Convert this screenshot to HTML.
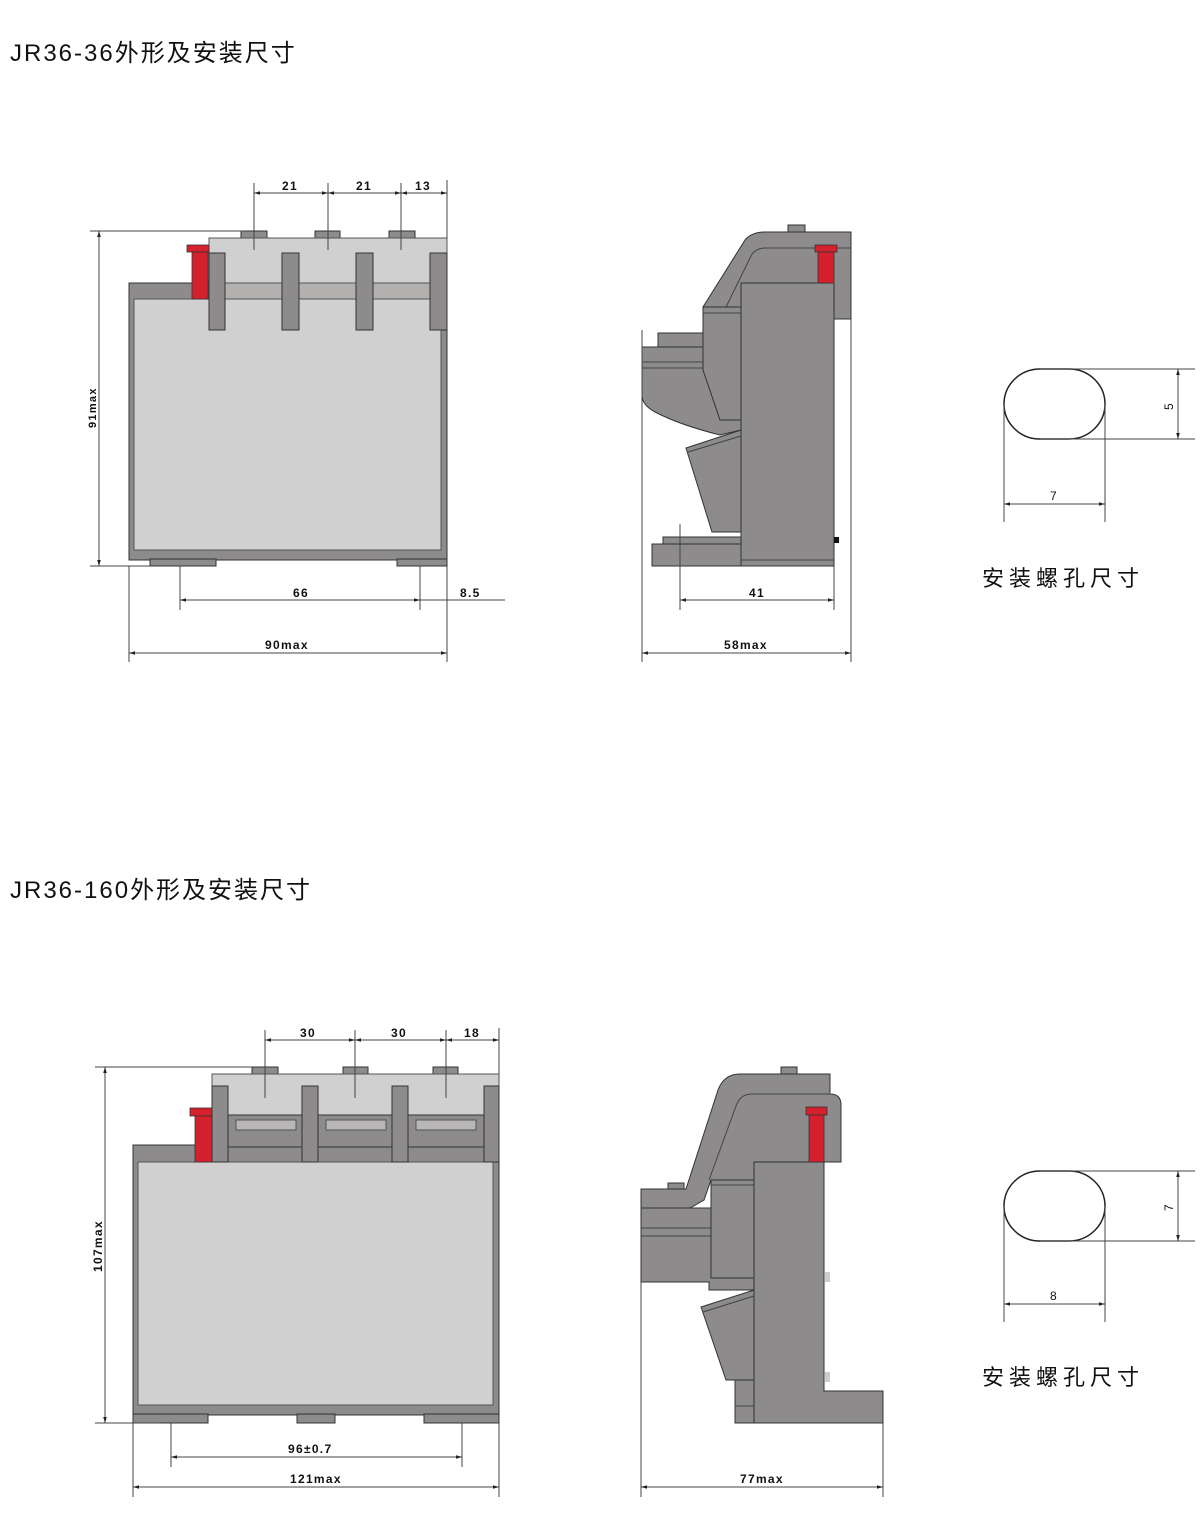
<!DOCTYPE html>
<html><head><meta charset="utf-8"><style>
html,body{margin:0;padding:0;background:#fff;}
svg{display:block;}
text{font-family:"Liberation Sans","Noto Sans CJK SC",sans-serif;fill:#111;}
.d{fill:#8d8b8b;stroke:#333;stroke-width:1;}
.l{fill:#d0d0d0;stroke:#555;stroke-width:1;}
.r{fill:#d5202e;stroke:#333;stroke-width:0.8;}
.ln{stroke:#444;stroke-width:1;fill:none;}
.dim{font-size:12px;font-weight:bold;letter-spacing:1.3px;}
.t{font-size:24px;letter-spacing:2px;}
</style></head><body>
<svg width="1200" height="1532" viewBox="0 0 1200 1532" xmlns="http://www.w3.org/2000/svg">
<defs>
<marker id="a" viewBox="0 0 10 10" refX="10" refY="5" markerWidth="8" markerHeight="6" orient="auto-start-reverse"><path d="M0,2 L10,5 L0,8 z" fill="#222"/></marker>
</defs>
<text class="t" x="10" y="61">JR36-36外形及安装尺寸</text>
<text class="t" x="10" y="898">JR36-160外形及安装尺寸</text>

<!-- FRONT VIEW 1 -->
<rect class="d" x="241" y="231" width="26" height="8"/>
<rect class="d" x="315" y="231" width="25" height="8"/>
<rect class="d" x="389" y="231" width="26" height="8"/>
<rect class="l" x="209" y="238" width="238" height="62"/>
<rect class="d" x="129" y="283" width="318" height="277"/>
<rect x="209" y="283" width="238" height="16" fill="#b3b0b0" stroke="#555"/>
<rect class="l" x="134" y="299" width="307" height="251"/>
<rect class="d" x="209" y="253" width="16" height="77"/>
<rect class="d" x="282" y="253" width="17" height="77"/>
<rect class="d" x="356" y="253" width="17" height="77"/>
<rect class="d" x="430" y="253" width="17" height="77"/>
<rect class="d" x="150" y="559" width="66" height="7"/>
<rect class="d" x="397" y="559" width="50" height="7"/>
<rect class="r" x="187" y="245" width="22" height="7"/>
<rect class="r" x="192" y="252" width="16" height="47"/>
<g class="ln">
<line x1="254" y1="183" x2="254" y2="250"/><line x1="328" y1="183" x2="328" y2="250"/><line x1="401" y1="183" x2="401" y2="250"/><line x1="447" y1="180" x2="447" y2="238"/>
<line x1="254" y1="193" x2="328" y2="193" marker-start="url(#a)" marker-end="url(#a)"/>
<line x1="328" y1="193" x2="401" y2="193" marker-start="url(#a)" marker-end="url(#a)"/>
<line x1="401" y1="193" x2="447" y2="193" marker-start="url(#a)" marker-end="url(#a)"/>
<line x1="90" y1="231" x2="245" y2="231"/><line x1="90" y1="566" x2="150" y2="566"/>
<line x1="99" y1="231" x2="99" y2="566" marker-start="url(#a)" marker-end="url(#a)"/>
<line x1="129" y1="566" x2="129" y2="662"/><line x1="447" y1="566" x2="447" y2="662"/>
<line x1="180" y1="566" x2="180" y2="610"/><line x1="420" y1="566" x2="420" y2="610"/>
<line x1="180" y1="600" x2="420" y2="600" marker-start="url(#a)" marker-end="url(#a)"/>
<line x1="420" y1="600" x2="505" y2="600"/>
<line x1="129" y1="653" x2="447" y2="653" marker-start="url(#a)" marker-end="url(#a)"/>
</g>
<text class="dim" x="282" y="190">21</text><text class="dim" x="356" y="190">21</text><text class="dim" x="415" y="190">13</text>
<text class="dim" x="293" y="597">66</text><text class="dim" x="460" y="597">8.5</text>
<text class="dim" x="265" y="649">90max</text>
<text class="dim" transform="translate(96,428) rotate(-90)" style="font-size:11px">91max</text>

<!-- SIDE VIEW 1 -->
<rect class="d" x="788" y="225" width="17" height="8"/>
<path class="d" d="M765,232 L851,232 L851,319 L834,319 L834,283 L741,283 L741,307 L703,307 L745,240 Q752,232 765,232 Z"/>
<path class="ln" d="M726,307 L752,254 Q757,248 765,248 L851,248"/>
<rect class="d" x="703" y="307" width="38" height="116"/>
<rect class="d" x="658" y="333" width="45" height="14"/>
<path class="d" d="M642,347 L703,347 L703,370 L720,420 L741,420 L741,430 L720,435 Q680,425 655,412 Q642,405 642,395 Z"/>
<line class="ln" x1="642" y1="362" x2="703" y2="362"/><line class="ln" x1="642" y1="368" x2="703" y2="368"/>
<line class="ln" x1="703" y1="313" x2="741" y2="313"/>
<path class="d" d="M686,448 L741,430 L741,532 L712,532 Z"/>
<line class="ln" x1="688" y1="452" x2="741" y2="436"/>
<rect class="d" x="663" y="537" width="78" height="8"/>
<rect class="d" x="652" y="544" width="89" height="22"/>
<rect class="d" x="741" y="283" width="93" height="283"/>
<line class="ln" x1="741" y1="560" x2="834" y2="560"/>
<rect x="834" y="537" width="5" height="6" fill="#111"/>
<rect class="r" x="815" y="245" width="22" height="7"/>
<rect class="r" x="818" y="252" width="16" height="31"/>
<g class="ln">
<line x1="642" y1="330" x2="642" y2="662"/><line x1="851" y1="319" x2="851" y2="662"/>
<line x1="834" y1="566" x2="834" y2="610"/><line x1="680" y1="524" x2="680" y2="610"/>
<line x1="680" y1="600" x2="834" y2="600" marker-start="url(#a)" marker-end="url(#a)"/>
<line x1="642" y1="653" x2="851" y2="653" marker-start="url(#a)" marker-end="url(#a)"/>
</g>
<text class="dim" x="749" y="597">41</text><text class="dim" x="724" y="649">58max</text>

<!-- SLOT 1 -->
<rect x="1004" y="369" width="101" height="70" rx="36" ry="35" fill="none" stroke="#222" stroke-width="1.5"/>
<g class="ln" stroke="#666">
<line x1="1040" y1="369" x2="1195" y2="369"/><line x1="1040" y1="439" x2="1195" y2="439"/>
<line x1="1178" y1="369" x2="1178" y2="439" marker-start="url(#a)" marker-end="url(#a)"/>
<line x1="1004" y1="404" x2="1004" y2="522"/><line x1="1105" y1="404" x2="1105" y2="522"/>
<line x1="1004" y1="504" x2="1105" y2="504" marker-start="url(#a)" marker-end="url(#a)"/>
</g>
<text x="1050" y="500" style="font-size:12px">7</text>
<text transform="translate(1173,410) rotate(-90)" style="font-size:12px">5</text>
<text x="982" y="586" style="font-size:22px;letter-spacing:5px">安装螺孔尺寸</text>

<!-- FRONT VIEW 2 -->
<rect class="d" x="252" y="1067" width="26" height="8"/>
<rect class="d" x="343" y="1067" width="25" height="8"/>
<rect class="d" x="433" y="1067" width="25" height="8"/>
<rect class="l" x="212" y="1074" width="287" height="90"/>
<rect class="d" x="133" y="1145" width="366" height="270"/>
<rect class="l" x="138" y="1162" width="355" height="243"/>
<rect class="d" x="228" y="1115" width="256" height="32"/>
<rect x="236" y="1120" width="60" height="10" fill="#b8b6b6" stroke="#555"/>
<rect x="326" y="1120" width="60" height="10" fill="#b8b6b6" stroke="#555"/>
<rect x="416" y="1120" width="60" height="10" fill="#b8b6b6" stroke="#555"/>
<rect class="d" x="212" y="1086" width="16" height="76"/>
<rect class="d" x="302" y="1086" width="16" height="76"/>
<rect class="d" x="392" y="1086" width="16" height="76"/>
<rect class="d" x="484" y="1086" width="15" height="76"/>
<rect class="d" x="133" y="1414" width="75" height="9"/>
<rect class="d" x="424" y="1414" width="75" height="9"/>
<rect class="d" x="297" y="1414" width="38" height="9"/>
<rect class="r" x="190" y="1108" width="22" height="8"/>
<rect class="r" x="195" y="1116" width="17" height="46"/>
<g class="ln">
<line x1="265" y1="1030" x2="265" y2="1098"/><line x1="355" y1="1030" x2="355" y2="1098"/><line x1="446" y1="1030" x2="446" y2="1098"/><line x1="499" y1="1028" x2="499" y2="1074"/>
<line x1="265" y1="1040" x2="355" y2="1040" marker-start="url(#a)" marker-end="url(#a)"/>
<line x1="355" y1="1040" x2="446" y2="1040" marker-start="url(#a)" marker-end="url(#a)"/>
<line x1="446" y1="1040" x2="499" y2="1040" marker-start="url(#a)" marker-end="url(#a)"/>
<line x1="95" y1="1067" x2="252" y2="1067"/><line x1="95" y1="1423" x2="160" y2="1423"/>
<line x1="105" y1="1067" x2="105" y2="1423" marker-start="url(#a)" marker-end="url(#a)"/>
<line x1="133" y1="1423" x2="133" y2="1497"/><line x1="499" y1="1423" x2="499" y2="1497"/>
<line x1="171" y1="1423" x2="171" y2="1467"/><line x1="462" y1="1423" x2="462" y2="1467"/>
<line x1="171" y1="1457" x2="462" y2="1457" marker-start="url(#a)" marker-end="url(#a)"/>
<line x1="133" y1="1487" x2="499" y2="1487" marker-start="url(#a)" marker-end="url(#a)"/>
</g>
<text class="dim" x="300" y="1037">30</text><text class="dim" x="391" y="1037">30</text><text class="dim" x="464" y="1037">18</text>
<text class="dim" x="288" y="1453">96±0.7</text><text class="dim" x="290" y="1483">121max</text>
<text class="dim" transform="translate(102,1272) rotate(-90)">107max</text>

<!-- SIDE VIEW 2 -->
<rect class="d" x="781" y="1067" width="16" height="8"/>
<rect class="d" x="668" y="1183" width="16" height="7"/>
<path class="d" d="M740,1074 L830,1074 L830,1094 Q841,1094 841,1105 L841,1162 L754,1162 L754,1180 L711,1180 L704,1200 L690,1208 L641,1208 L641,1189 L686,1189 L718,1090 Q724,1074 740,1074 Z"/>
<path class="ln" d="M830,1094 L752,1094 Q740,1094 736,1106 L709,1180"/>
<path class="d" d="M641,1208 L711,1208 L711,1230 L726,1278 L754,1278 L754,1290 L709,1290 L709,1282 L641,1282 Z"/>
<rect class="d" x="711" y="1180" width="43" height="98"/>
<line class="ln" x1="641" y1="1228" x2="711" y2="1228"/><line class="ln" x1="641" y1="1236" x2="711" y2="1236"/>
<line class="ln" x1="711" y1="1185" x2="754" y2="1185"/>
<path class="d" d="M701,1307 L754,1290 L754,1380 L726,1380 Z"/>
<line class="ln" x1="703" y1="1312" x2="754" y2="1296"/>
<rect class="d" x="735" y="1380" width="19" height="43"/>
<line class="ln" x1="735" y1="1406" x2="754" y2="1406"/>
<path class="d" d="M754,1162 L824,1162 L824,1391 L883,1391 L883,1423 L754,1423 Z"/>
<rect x="825" y="1272" width="5" height="10" fill="#ccc"/><rect x="825" y="1372" width="5" height="10" fill="#ccc"/>
<rect class="r" x="806" y="1107" width="21" height="8"/>
<rect class="r" x="809" y="1115" width="15" height="47"/>
<g class="ln">
<line x1="641" y1="1282" x2="641" y2="1497"/><line x1="883" y1="1423" x2="883" y2="1497"/>
<line x1="641" y1="1487" x2="883" y2="1487" marker-start="url(#a)" marker-end="url(#a)"/>
</g>
<text class="dim" x="740" y="1483">77max</text>

<!-- SLOT 2 -->
<rect x="1004" y="1171" width="101" height="70" rx="36" ry="35" fill="none" stroke="#222" stroke-width="1.5"/>
<g class="ln" stroke="#666">
<line x1="1040" y1="1171" x2="1195" y2="1171"/><line x1="1040" y1="1241" x2="1195" y2="1241"/>
<line x1="1178" y1="1171" x2="1178" y2="1241" marker-start="url(#a)" marker-end="url(#a)"/>
<line x1="1004" y1="1206" x2="1004" y2="1322"/><line x1="1105" y1="1206" x2="1105" y2="1322"/>
<line x1="1004" y1="1304" x2="1105" y2="1304" marker-start="url(#a)" marker-end="url(#a)"/>
</g>
<text x="1050" y="1300" style="font-size:12px">8</text>
<text transform="translate(1173,1211) rotate(-90)" style="font-size:12px">7</text>
<text x="982" y="1385" style="font-size:22px;letter-spacing:5px">安装螺孔尺寸</text>
</svg>
</body></html>
